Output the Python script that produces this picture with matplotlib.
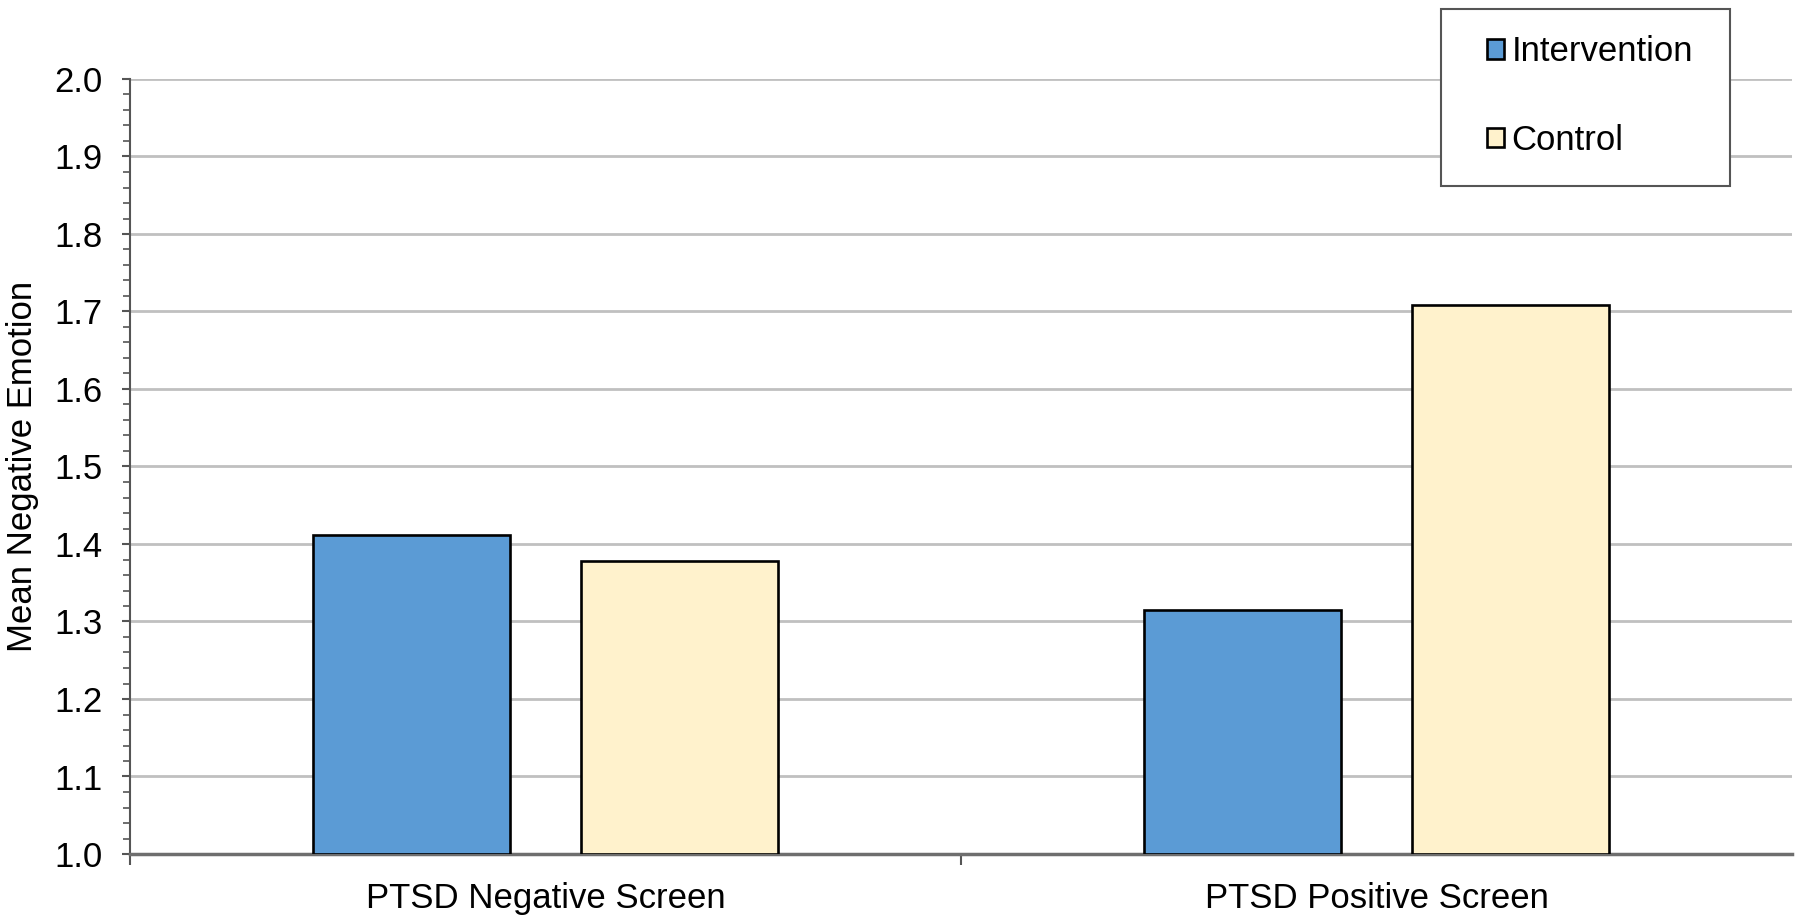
import numpy as np
import matplotlib.pyplot as plt
from matplotlib.ticker import MultipleLocator
from matplotlib.patches import Rectangle

plt.rcParams['font.family'] = ['Liberation Sans', 'DejaVu Sans']

# --- data ---
groups = ['PTSD Negative Screen', 'PTSD Positive Screen']
intervention = [1.412, 1.315]
control = [1.378, 1.708]

blue = '#5B9BD5'
cream = '#FFF2CC'
fs = 25

fig = plt.figure(figsize=(18, 9.21), dpi=100)
ax = fig.add_axes([130/1800, 1 - 854/921, 1662/1800, (854 - 79)/921])

x = np.arange(len(groups))
w = 0.237
off = 0.1615
ax.bar(x - off, np.array(intervention) - 1.0, w, bottom=1.0, color=blue,
       edgecolor='black', linewidth=1.9, label='Intervention', zorder=3)
ax.bar(x + off, np.array(control) - 1.0, w, bottom=1.0, color=cream,
       edgecolor='black', linewidth=1.9, label='Control', zorder=3)

ax.set_xlim(-0.5, 1.5)
ax.set_ylim(1.0, 2.0)

# y axis
ax.yaxis.set_major_locator(MultipleLocator(0.1))
ax.yaxis.set_minor_locator(MultipleLocator(0.02))
ax.yaxis.set_major_formatter(plt.FormatStrFormatter('%.1f'))
ax.tick_params(axis='y', which='major', length=6, width=1.5, color='#555555',
               labelsize=fs, pad=14)
ax.tick_params(axis='y', which='minor', length=5, width=1.2, color='#555555')
ax.grid(axis='y', which='major', color='#C0C0C0', linewidth=2)
ax.set_axisbelow(True)
ax.set_ylabel('Mean Negative Emotion', fontsize=fs, labelpad=11)

# x axis: boundary ticks, labels centred on groups
ax.set_xticks([-0.5, 0.5])
ax.set_xticklabels([])
ax.set_xticks(x, minor=True)
ax.set_xticklabels(groups, minor=True, fontsize=fs)
ax.tick_params(axis='x', which='major', length=8, width=1.5, color='#555555')
ax.tick_params(axis='x', which='minor', length=0, pad=20)

for s in ['top', 'right']:
    ax.spines[s].set_visible(False)
ax.spines['left'].set_color('#555555')
ax.spines['left'].set_linewidth(1.5)
ax.spines['bottom'].set_color('#6E6E6E')
ax.spines['bottom'].set_linewidth(2.5)

# legend box drawn separately so the padding can differ per side
frame = Rectangle((1441/1800, 1 - 186/921), 289/1800, 177/921,
                  transform=fig.transFigure, facecolor='white',
                  edgecolor='#555555', linewidth=1.5, zorder=4)
fig.patches.append(frame)
fig.legend(loc='center left', bbox_to_anchor=(1487/1800, 1 - 96/921),
           borderaxespad=0, borderpad=0, fontsize=fs, frameon=False,
           labelspacing=1.6, handlelength=0.5, handleheight=0.5,
           handletextpad=0.2)

fig.savefig('out.png', dpi=100)
